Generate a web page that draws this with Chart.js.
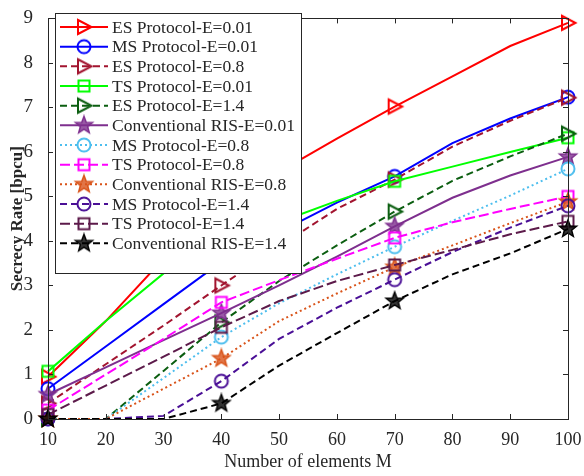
<!DOCTYPE html>
<html>
<head>
<meta charset="utf-8">
<script src="https://cdn.jsdelivr.net/npm/chart.js@4/dist/chart.umd.min.js"></script>
<style>
  html, body { margin: 0; padding: 0; background: #fff; }
  #wrap { width: 584px; height: 476px; }
</style>
</head>
<body>
<div id="wrap"><canvas id="rate-chart" width="584" height="476"></canvas></div>
<script>
// number of RIS elements M
const elements = [10, 20, 30, 40, 50, 60, 70, 80, 90, 100];
const yTicks = [0, 1, 2, 3, 4, 5, 6, 7, 8, 9];

// secrecy rate [bpcu]
const esE001 = [0.95, 2.2, 3.6, 4.6, 5.55, 6.3, 7.02, 7.7, 8.38, 8.9];
const msE001 = [0.68, 1.63, 2.58, 3.53, 4.2, 4.86, 5.45, 6.2, 6.75, 7.23];
const esE08 = [0.35, 1.23, 2.1, 3.0, 3.88, 4.72, 5.38, 6.12, 6.7, 7.22];
const tsE001 = [1.07, 2.2, 3.27, 3.85, 4.42, 4.9, 5.34, 5.67, 6.0, 6.32];
const esE14 = [0, 0, 1.08, 2.17, 3.1, 3.9, 4.66, 5.35, 5.9, 6.41];
const convE001 = [0.55, 1.16, 1.77, 2.38, 3.0, 3.65, 4.33, 4.97, 5.47, 5.89];
const msE08 = [0, 0, 0.92, 1.84, 2.6, 3.25, 3.87, 4.45, 5.02, 5.62];
const tsE08 = [0.2, 1.0, 1.8, 2.62, 3.12, 3.6, 4.07, 4.42, 4.72, 5.0];
const convE08 = [0, 0, 0.68, 1.36, 2.2, 2.82, 3.41, 3.9, 4.4, 4.88];
const msE14 = [0, 0, 0.07, 0.85, 1.8, 2.5, 3.13, 3.75, 4.3, 4.79];
const tsE14 = [0.1, 0.75, 1.4, 2.06, 2.65, 3.1, 3.46, 3.8, 4.15, 4.44];
const convE14 = [0, 0, 0, 0.35, 1.2, 1.93, 2.65, 3.25, 3.72, 4.27];

const markerAt = [0, 3, 6, 9];

// MATLAB-like hollow markers drawn on small canvases
function makeMarker(shape, color) {
    const c = document.createElement('canvas');
    c.width = 22; c.height = 22;
    const g = c.getContext('2d');
    g.strokeStyle = color;
    g.fillStyle = color;
    g.lineWidth = 2;
    g.lineJoin = 'miter';
    g.translate(11, 11);
    g.beginPath();
    if (shape === 'tri') {
        g.moveTo(-6, -7); g.lineTo(7.5, 0); g.lineTo(-6, 7); g.closePath();
        g.stroke();
    } else if (shape === 'circle') {
        g.arc(0, 0, 6.5, 0, Math.PI * 2);
        g.stroke();
    } else if (shape === 'square') {
        g.rect(-5.5, -5.5, 11, 11);
        g.stroke();
    } else if (shape === 'star') {
        for (let k = 0; k < 10; k++) {
            const r = k % 2 === 0 ? 9 : 3.8;
            const a = -Math.PI / 2 + k * Math.PI / 5;
            const px = r * Math.cos(a), py = r * Math.sin(a);
            if (k === 0) g.moveTo(px, py); else g.lineTo(px, py);
        }
        g.closePath();
        g.globalAlpha = 0.8;
        g.fill();
        g.globalAlpha = 1;
        g.lineWidth = 1.5;
        g.stroke();
    }
    return c;
}

function series(label, data, color, shape, dash) {
    return {
        label: label,
        data: data,
        borderColor: color,
        borderWidth: 2,
        borderDash: dash,
        pointStyle: makeMarker(shape, color),
        pointRadius: data.map((v, i) => markerAt.includes(i) ? 7 : 0),
        pointHoverRadius: 0,
        tension: 0,
        fill: false,
        clip: false
    };
}

const dashed = [7, 4];
const longDash = [10, 4];
const dotted = [2, 3];

const datasets = [
    series('ES Protocol-E=0.01', esE001, '#ff0000', 'tri', []),
    series('MS Protocol-E=0.01', msE001, '#0000ff', 'circle', []),
    series('ES Protocol-E=0.8', esE08, '#a2142f', 'tri', dashed),
    series('TS Protocol-E=0.01', tsE001, '#00ff00', 'square', []),
    series('ES Protocol-E=1.4', esE14, '#0b5e10', 'tri', dashed),
    series('Conventional RIS-E=0.01', convE001, '#7e2f8e', 'star', []),
    series('MS Protocol-E=0.8', msE08, '#4dbeee', 'circle', dotted),
    series('TS Protocol-E=0.8', tsE08, '#ff00ff', 'square', longDash),
    series('Conventional RIS-E=0.8', convE08, '#d95319', 'star', dotted),
    series('MS Protocol-E=1.4', msE14, '#4a0f96', 'circle', dashed),
    series('TS Protocol-E=1.4', tsE14, '#5c1a4a', 'square', longDash),
    series('Conventional RIS-E=1.4', convE14, '#000000', 'star', dashed)
];
// later series on top, like MATLAB
datasets.forEach((d, i) => { d.order = datasets.length - i; });

const ink = '#262626';

// box, inward ticks on all four sides
const framePlugin = {
    id: 'frame',
    afterDatasetsDraw(chart) {
        const ctx = chart.ctx;
        const a = chart.chartArea;
        const xs = chart.scales.x, ys = chart.scales.y;
        ctx.save();
        ctx.strokeStyle = ink;
        ctx.lineWidth = 1;
        ctx.beginPath();
        elements.forEach(v => {
            const px = Math.round(xs.getPixelForValue(v)) + 0.5;
            ctx.moveTo(px, a.bottom); ctx.lineTo(px, a.bottom - 5);
            ctx.moveTo(px, a.top); ctx.lineTo(px, a.top + 5);
        });
        yTicks.forEach(v => {
            const py = Math.round(ys.getPixelForValue(v)) + 0.5;
            ctx.moveTo(a.left, py); ctx.lineTo(a.left + 5, py);
            ctx.moveTo(a.right, py); ctx.lineTo(a.right - 5, py);
        });
        ctx.stroke();
        ctx.strokeRect(Math.round(a.left) + 0.5, Math.round(a.top) + 0.5,
            Math.round(a.right - a.left), Math.round(a.bottom - a.top));
        ctx.restore();
    }
};

// legend box in the upper left, line sample + marker + label
const legendPlugin = {
    id: 'boxLegend',
    afterDraw(chart) {
        const ctx = chart.ctx;
        const bx = 55, by = 13, bw = 246, bh = 260;
        ctx.save();
        ctx.fillStyle = '#fff';
        ctx.fillRect(bx, by, bw, bh);
        ctx.strokeStyle = ink;
        ctx.lineWidth = 1;
        ctx.strokeRect(bx + 0.5, by + 0.5, bw, bh);
        ctx.font = '17.5px "Liberation Serif"';
        ctx.textBaseline = 'middle';
        chart.data.datasets.forEach((d, i) => {
            const cy = 27 + i * 19.67;
            ctx.strokeStyle = d.borderColor;
            ctx.lineWidth = 2;
            ctx.setLineDash(d.borderDash);
            ctx.beginPath();
            ctx.moveTo(60, cy); ctx.lineTo(108, cy);
            ctx.stroke();
            ctx.setLineDash([]);
            ctx.drawImage(d.pointStyle, 84 - 11, cy - 11);
            ctx.fillStyle = ink;
            ctx.fillText(d.label, 112, cy + 1);
        });
        ctx.restore();
    }
};

new Chart(document.getElementById('rate-chart'), {
    type: 'line',
    data: { labels: elements, datasets: datasets },
    options: {
        responsive: false,
        animation: false,
        events: [],
        layout: { padding: { top: 8, right: 16, left: 0, bottom: 0 } },
        plugins: { legend: { display: false }, tooltip: { enabled: false } },
        scales: {
            x: {
                type: 'linear',
                min: 10,
                max: 100,
                afterFit: s => { s.height = 57; },
                afterBuildTicks: s => { s.ticks = elements.map(v => ({ value: v })); },
                grid: { display: false },
                border: { display: false },
                ticks: { color: ink, font: { family: 'Liberation Serif', size: 18 }, padding: 2, maxRotation: 0 },
                title: {
                    display: true,
                    text: 'Number of elements M',
                    color: ink,
                    font: { family: 'Liberation Serif', size: 18 },
                    padding: { top: 0, bottom: 3 }
                }
            },
            y: {
                min: 0,
                max: 9,
                afterFit: s => { s.width = 48; },
                afterBuildTicks: s => { s.ticks = yTicks.map(v => ({ value: v })); },
                grid: { display: false },
                border: { display: false },
                ticks: { color: ink, font: { family: 'Liberation Serif', size: 19 }, padding: 7 },
                title: {
                    display: true,
                    text: 'Secrecy Rate [bpcu]',
                    color: ink,
                    font: { family: 'Liberation Serif', size: 17, weight: 'bold' },
                    padding: { top: 7, bottom: 0 }
                }
            }
        }
    },
    plugins: [framePlugin, legendPlugin]
});
</script>
</body>
</html>
